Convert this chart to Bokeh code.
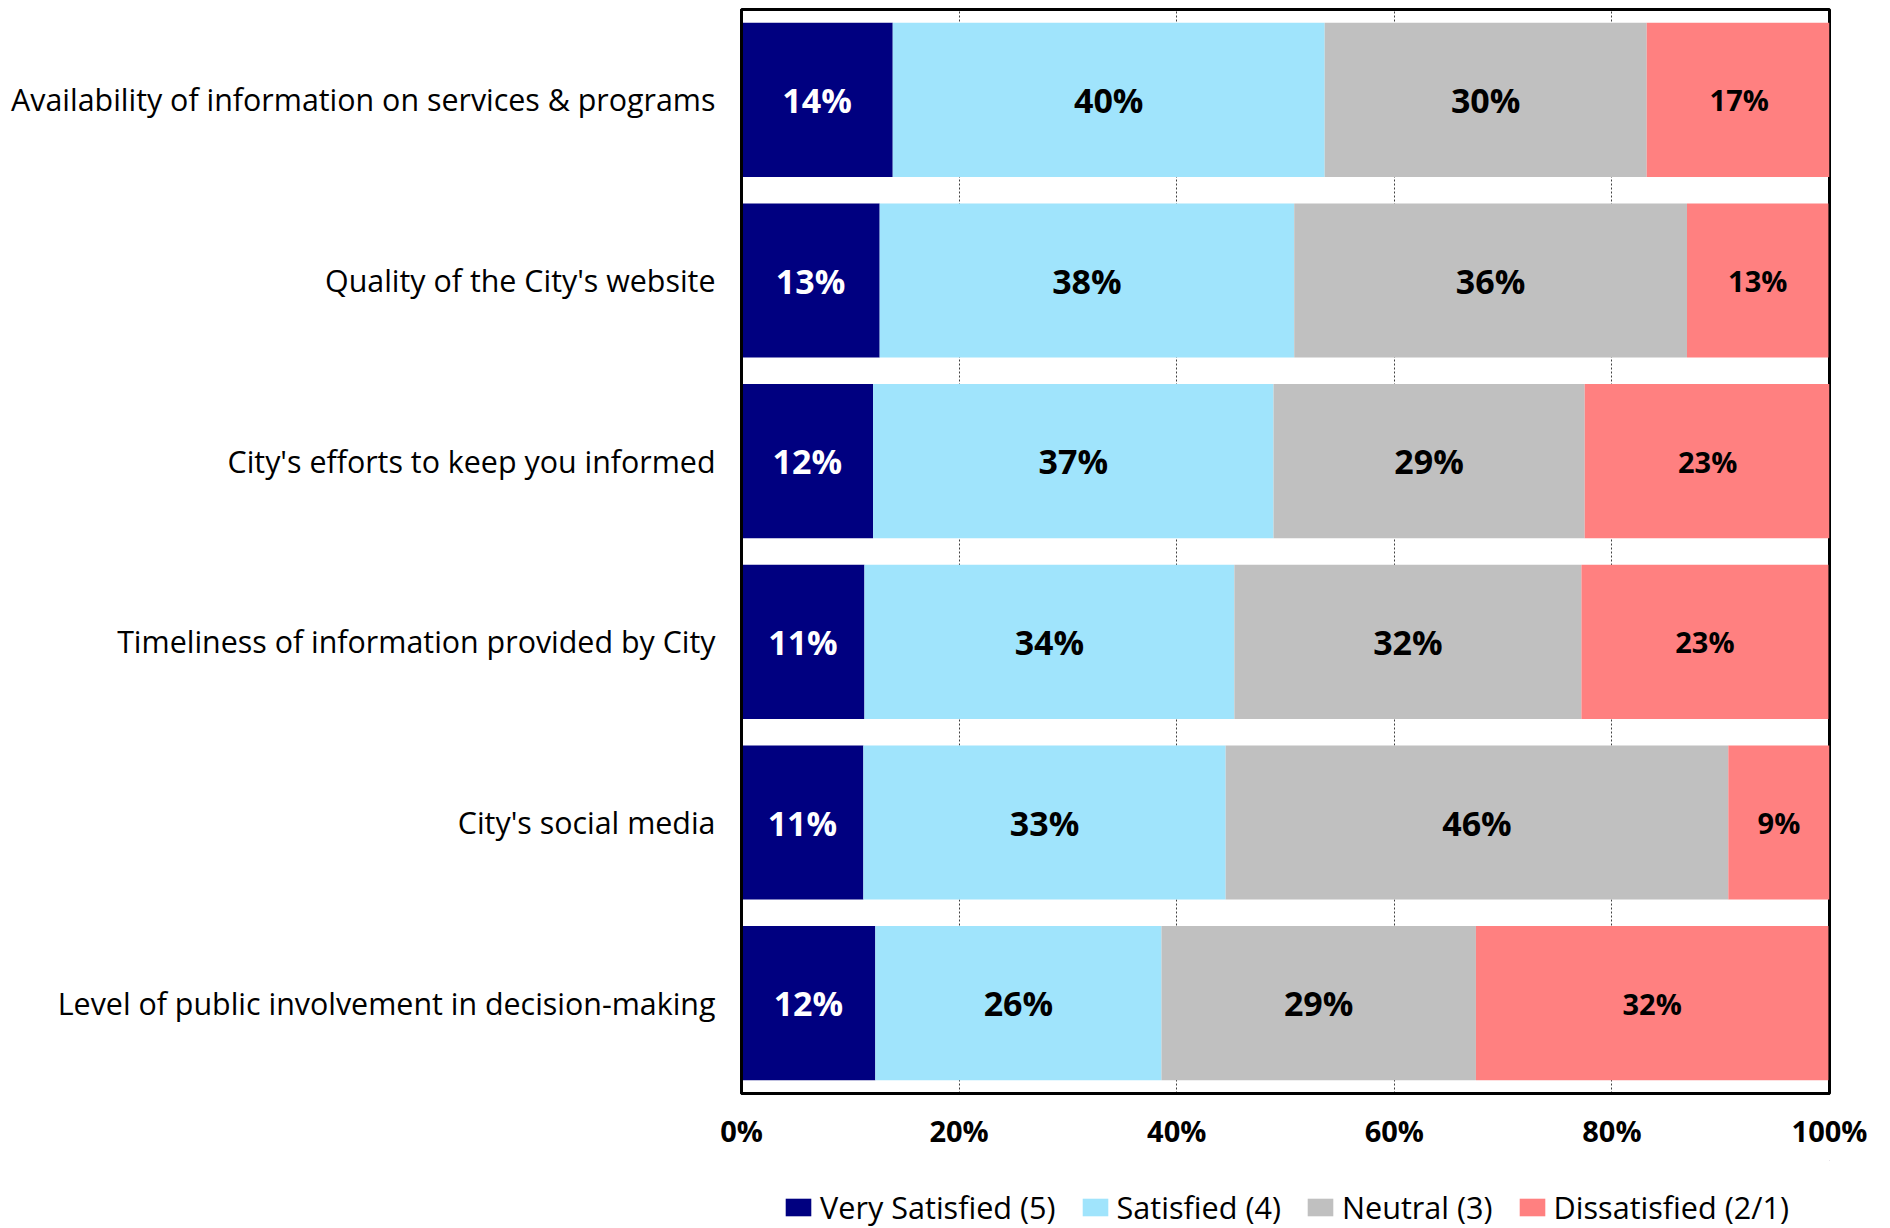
from bokeh.plotting import figure
from bokeh.layouts import column
from bokeh.models import FactorRange, ColumnDataSource, Legend, LegendItem, FixedTicker, CustomJSTickFormatter, Range1d, LabelSet
from bokeh.embed import file_html
from bokeh.resources import INLINE
from bokeh.core.properties import value

categories = [
    "Availability of information on services & programs",
    "Quality of the City's website",
    "City's efforts to keep you informed",
    "Timeliness of information provided by City",
    "City's social media",
    "Level of public involvement in decision-making",
]
series_names = ["Very Satisfied (5)", "Satisfied (4)", "Neutral (3)", "Dissatisfied (2/1)"]
very_satisfied = [13.9, 12.7, 12.1, 11.3, 11.2, 12.3]
satisfied = [39.7, 38.1, 36.8, 34.0, 33.3, 26.3]
neutral = [29.6, 36.1, 28.6, 31.9, 46.2, 28.9]
dissatisfied = [17.0, 13.0, 22.6, 22.7, 9.3, 32.4]
x_ticks = [0, 20, 40, 60, 80, 100]

colors = ["#000080", "#A0E4FC", "#C0C0C0", "#FF8080"]
label_colors = ["white", "black", "black", "black"]
label_sizes = ["34px", "34px", "34px", "29px"]
FONT = "Open Sans"

W = 1880
p = figure(
    width=W, height=1160,
    y_range=FactorRange(*list(reversed(categories)), range_padding=0),
    x_range=Range1d(0, 100),
    output_backend="svg", toolbar_location=None,
    min_border_left=741, min_border_right=51, min_border_top=9, min_border_bottom=67,
)
p.outline_line_color = "black"
p.outline_line_width = 3
p.background_fill_color = "white"
p.border_fill_color = "white"

series = [very_satisfied, satisfied, neutral, dissatisfied]
left = [0.0] * len(categories)
for vals, col, lc, ls in zip(series, colors, label_colors, label_sizes):
    right = [l + v for l, v in zip(left, vals)]
    src = ColumnDataSource(dict(
        y=categories, left=left, right=right,
        mid=[(l + r) / 2 for l, r in zip(left, right)],
        txt=[f"{v:.0f}%" for v in vals],
    ))
    p.hbar(y="y", left="left", right="right", height=0.853, source=src,
           fill_color=col, line_color=None)
    lbl = LabelSet(x="mid", y="y", text="txt", source=src, text_align="center",
                   text_baseline="middle", text_color=lc, text_font=value(FONT),
                   text_font_style="bold", text_font_size=ls)
    p.add_layout(lbl)
    left = right

p.xaxis.ticker = FixedTicker(ticks=x_ticks)
p.xaxis.formatter = CustomJSTickFormatter(code="return tick.toFixed(0) + '%';")
p.xaxis.major_label_text_font = FONT
p.xaxis.major_label_text_font_style = "bold"
p.xaxis.major_label_text_font_size = "29px"
p.xaxis.major_label_text_color = "black"
p.xaxis.major_label_standoff = 11
p.xaxis.major_tick_line_color = None
p.xaxis.minor_tick_line_color = None
p.xaxis.axis_line_color = "black"
p.xaxis.axis_line_width = 3

p.yaxis.major_label_text_font = FONT
p.yaxis.major_label_text_font_size = "30.4px"
p.yaxis.major_label_text_color = "black"
p.yaxis.major_label_standoff = 20
p.yaxis.major_tick_line_color = None
p.yaxis.minor_tick_line_color = None
p.yaxis.axis_line_color = "black"
p.yaxis.axis_line_width = 3

p.ygrid.grid_line_color = None
p.xgrid.grid_line_color = "#404040"
p.xgrid.grid_line_width = 1
p.xgrid.grid_line_dash = "2 2"

# legend strip below the chart; its swatch renderers sit outside the visible range
lg = figure(
    width=W, height=68, x_range=Range1d(0, 1), y_range=Range1d(0, 1),
    x_axis_type=None, y_axis_type=None, output_backend="svg", toolbar_location=None,
    min_border_left=741, min_border_right=51, min_border_top=0, min_border_bottom=0,
)
lg.outline_line_color = None
lg.background_fill_color = "white"
lg.border_fill_color = "white"
items = []
for name, col in zip(series_names, colors):
    r = lg.hbar(y=[50], left=[50], right=[51], height=1, fill_color=col, line_color=None)
    items.append(LegendItem(label=name, renderers=[r]))
legend = Legend(items=items, orientation="horizontal", location=(41, 0),
                label_text_font=FONT, label_text_font_size="30.6px", label_text_color="black",
                glyph_width=32, glyph_height=22, label_standoff=6, spacing=23,
                border_line_color=None, background_fill_alpha=0, margin=0, padding=1)
lg.add_layout(legend, "center")

layout = column(p, lg, spacing=0)
open("out.html", "w").write(file_html(layout, INLINE))
